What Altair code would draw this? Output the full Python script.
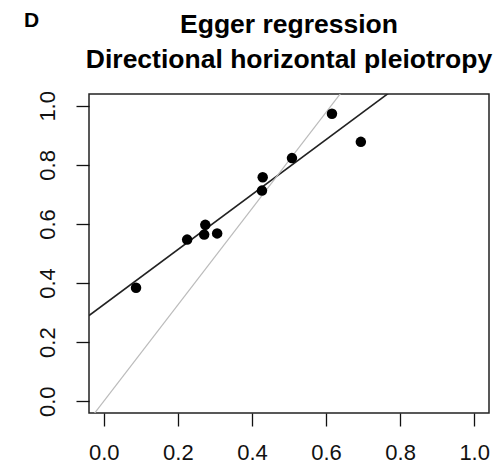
import altair as alt
import pandas as pd

# Data
x_vals = [0.087, 0.225, 0.271, 0.274, 0.306, 0.427, 0.429, 0.508, 0.616, 0.694]
y_vals = [0.384, 0.547, 0.564, 0.597, 0.568, 0.713, 0.758, 0.823, 0.973, 0.878]

line_names = ["egger", "ivw"]
line_intercepts = [0.327, 0.0]
line_slopes = [0.931, 1.63]
line_colors = ["#222222", "#bbbbbb"]
line_widths = [1.6, 1.2]

x_domain = [-0.04, 1.04]
y_domain = [-0.04, 1.04]
tick_values = [0.0, 0.2, 0.4, 0.6, 0.8, 1.0]

title_line1 = "Egger regression"
title_line2 = "Directional horizontal pleiotropy"
panel_label = "D"

FONT = "Liberation Sans"

pts = pd.DataFrame({"x": x_vals, "y": y_vals})

rows = []
for n, a, b in zip(line_names, line_intercepts, line_slopes):
    for xv in x_domain:
        rows.append({"name": n, "x": xv, "y": a + b * xv})
lines = pd.DataFrame(rows)

xscale = alt.Scale(domain=x_domain, nice=False, zero=False)
yscale = alt.Scale(domain=y_domain, nice=False, zero=False)

xaxis = alt.Axis(values=tick_values, format=".1f", grid=False, domain=False,
                 tickColor="#111111", tickSize=13, tickWidth=1.3,
                 labelFontSize=22, labelFont=FONT, labelColor="#111111",
                 labelPadding=16, title=None)
yaxis = alt.Axis(values=tick_values, format=".1f", grid=False, domain=False,
                 tickColor="#111111", tickSize=13, tickWidth=1.3,
                 labelFontSize=22, labelFont=FONT, labelColor="#111111",
                 labelAngle=270, labelPadding=17, title=None)

line_layer = alt.Chart(lines).mark_line(clip=True).encode(
    x=alt.X("x:Q", scale=xscale, axis=xaxis),
    y=alt.Y("y:Q", scale=yscale, axis=yaxis),
    detail="name:N",
    color=alt.Color("name:N", scale=alt.Scale(domain=line_names, range=line_colors), legend=None),
    strokeWidth=alt.StrokeWidth("name:N", scale=alt.Scale(domain=line_names, range=line_widths), legend=None),
    order=alt.Order("name:N", sort="descending"),
)

point_layer = alt.Chart(pts).mark_circle(size=110, color="black", opacity=1).encode(
    x=alt.X("x:Q", scale=xscale),
    y=alt.Y("y:Q", scale=yscale),
)

def text_layer(txt, size, align, xpos, ypos):
    return alt.Chart(pd.DataFrame({"t": [txt]})).mark_text(
        fontSize=size, fontWeight="bold", font=FONT, align=align,
        baseline="alphabetic", color="black", clip=False,
    ).encode(text="t:N", x=alt.value(xpos), y=alt.value(ypos))

label_layer = text_layer(panel_label, 21, "left", -65, -67)
t1_layer = text_layer(title_line1, 26.5, "center", 200, -61)
t2_layer = text_layer(title_line2, 26.5, "center", 200, -26)

chart = alt.layer(line_layer, point_layer, label_layer, t1_layer, t2_layer).properties(
    width=400, height=319,
    autosize=alt.AutoSizeParams(type="none"),
    padding={"left": 81, "top": 86, "right": 7, "bottom": 51},
).configure_view(stroke="#222222", strokeWidth=1.5)

chart.save("out.html", embed_options={"renderer": "svg", "actions": False})
